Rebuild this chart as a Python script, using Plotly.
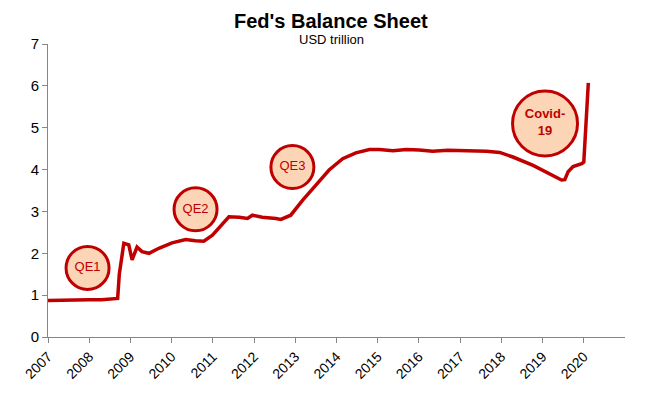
import plotly.graph_objects as go

# Fed balance sheet (USD trillion); x in decimal years
years = [2007.0, 2007.3, 2007.6, 2008.0, 2008.3, 2008.63, 2008.69, 2008.73, 2008.8, 2008.84,
         2008.96, 2009.04, 2009.16, 2009.28, 2009.45, 2009.69, 2010.01, 2010.34, 2010.58, 2010.78,
         2010.99, 2011.2, 2011.39, 2011.64, 2011.84, 2011.96, 2012.2, 2012.53, 2012.65, 2012.89,
         2013.18, 2013.5, 2013.82, 2014.15, 2014.47, 2014.8, 2015.04, 2015.37, 2015.69, 2016.01,
         2016.33, 2016.7, 2017.15, 2017.64, 2017.96, 2018.28, 2018.77, 2019.17, 2019.46, 2019.54,
         2019.62, 2019.74, 2019.95, 2020.0, 2020.03, 2020.07, 2020.11]
values = [0.87, 0.88, 0.88, 0.89, 0.89, 0.91, 0.92, 1.5, 2.05, 2.24,
          2.2, 1.84, 2.15, 2.04, 2.0, 2.12, 2.25, 2.33, 2.3, 2.29,
          2.43, 2.65, 2.87, 2.86, 2.83, 2.91, 2.86, 2.83, 2.81, 2.91,
          3.27, 3.63, 3.99, 4.26, 4.40, 4.48, 4.48, 4.45, 4.48, 4.47,
          4.44, 4.46, 4.45, 4.44, 4.41, 4.30, 4.10, 3.90, 3.75, 3.76,
          3.95, 4.07, 4.14, 4.18, 4.62, 5.42, 6.07]

# Annotation bubbles
bubble_labels = ["QE1", "QE2", "QE3", "<b>Covid-<br>19</b>"]
bubble_x = [2007.96, 2010.58, 2012.93, 2019.06]
bubble_y = [1.65, 3.05, 4.06, 5.1]
bubble_size = [43, 43, 43, 65]

tick_years = list(range(2007, 2021))
tick_labels = [str(y) for y in tick_years]

RED = "#C00000"
FONT = "Liberation Sans, Arial, sans-serif"

fig = go.Figure()
fig.add_trace(go.Scatter(x=years, y=values, mode="lines",
                         line=dict(color=RED, width=3.5), hoverinfo="skip"))
fig.add_trace(go.Scatter(x=bubble_x, y=bubble_y, mode="markers+text",
                         text=bubble_labels, textposition="middle center",
                         textfont=dict(color=RED, size=13, family=FONT),
                         marker=dict(size=bubble_size, color="#FBD5B5", opacity=1,
                                     line=dict(color=RED, width=3)),
                         hoverinfo="skip"))

axis_gray = "#868686"
fig.update_layout(
    width=652, height=389,
    margin=dict(l=40, r=35, t=36, b=60),
    plot_bgcolor="white", paper_bgcolor="white",
    showlegend=False,
    font=dict(family=FONT, color="black"),
    xaxis=dict(range=[2007, 2021], tickvals=tick_years, ticktext=tick_labels,
               tickangle=-45, showgrid=False, zeroline=False,
               showline=True, linecolor=axis_gray, linewidth=1,
               ticks="outside", ticklen=5, tickcolor=axis_gray,
               tickfont=dict(size=14, color="black"), automargin=False),
    yaxis=dict(range=[0, 7], dtick=1, showgrid=False, zeroline=False,
               showline=True, linecolor=axis_gray, linewidth=1,
               ticks="outside", ticklen=5, tickcolor=axis_gray,
               tickfont=dict(size=15, color="black"), automargin=False),
    annotations=[
        dict(text="<b>Fed's Balance Sheet</b>", xref="paper", yref="paper",
             x=0.491, y=1.079, showarrow=False, xanchor="center", yanchor="middle",
             font=dict(size=20, color="black", family=FONT)),
        dict(text="USD trillion", xref="paper", yref="paper",
             x=0.491, y=1.0137, showarrow=False, xanchor="center", yanchor="middle",
             font=dict(size=13, color="black", family=FONT)),
    ],
)

fig.write_html("out.html")
